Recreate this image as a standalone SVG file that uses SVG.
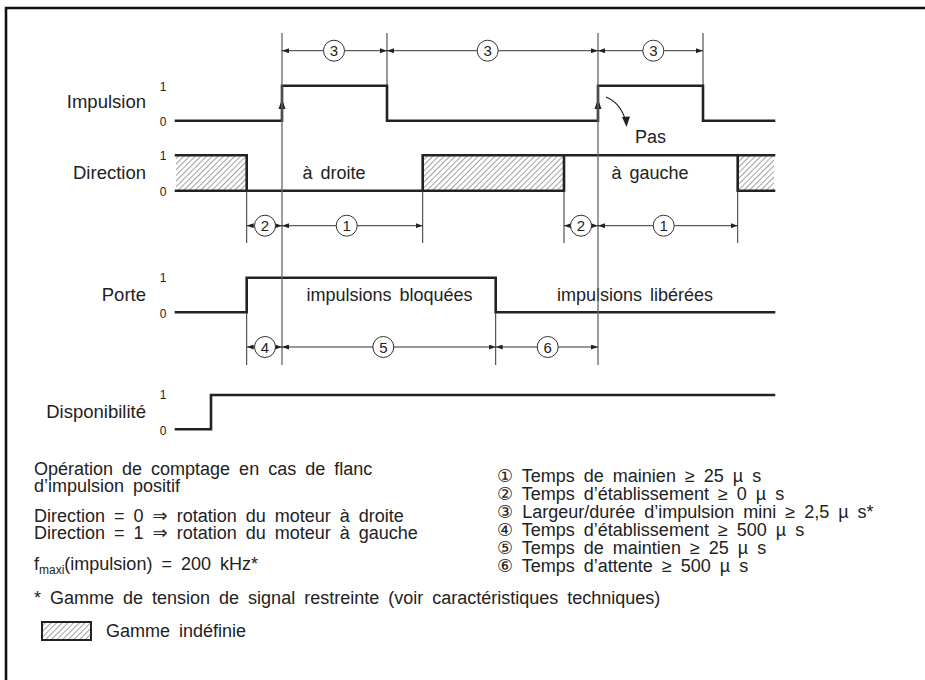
<svg xmlns="http://www.w3.org/2000/svg" width="925" height="680" viewBox="0 0 925 680">
<style>
text{font-family:"Liberation Sans","DejaVu Sans","Noto Sans CJK JP",sans-serif;fill:#222}
.lbl{font-size:18.5px;text-anchor:end}
.lv{font-size:12px;text-anchor:middle}
.in{font-size:18px;text-anchor:middle;word-spacing:3px}
.body{font-size:18px;word-spacing:4px}
.num{font-size:15px;text-anchor:middle}
.wave{fill:none;stroke:#222;stroke-width:2.6;stroke-linejoin:miter;stroke-linecap:square}
.thin{fill:none;stroke:#333;stroke-width:1}
.ref{fill:none;stroke:#666;stroke-width:1.3}
.dim{fill:none;stroke:#333;stroke-width:1;marker-start:url(#ah);marker-end:url(#ah)}
.circ{fill:#fff;stroke:#333;stroke-width:1}
</style>
<defs>
<pattern id="hatch" patternUnits="userSpaceOnUse" width="4" height="4" patternTransform="rotate(45)">
<line x1="0" y1="0" x2="0" y2="4" stroke="#444" stroke-width="1"/>
</pattern>
<marker id="ah" markerUnits="userSpaceOnUse" markerWidth="7" markerHeight="5" refX="7" refY="2.5" orient="auto-start-reverse">
<path d="M0,0 L7,2.5 L0,5 z" fill="#222"/>
</marker>
</defs>
<rect width="925" height="680" fill="#fff"/>
<path d="M6,680 V8 H925" fill="none" stroke="#111" stroke-width="2.6"/>

<g id="impulsion">
<text class="lbl" x="146" y="108">Impulsion</text>
<text class="lv" x="163" y="91">1</text>
<text class="lv" x="163" y="126">0</text>
<path class="wave" d="M176,120.7 H282 V85.7 H387 V120.7 H598 V85.7 H703 V120.7 H774"/>
<path d="M282,99 L278.5,109 L285.5,109 z" fill="#222"/>
<path d="M598,99 L594.5,109 L601.5,109 z" fill="#222"/>
</g>

<g id="pas">
<path d="M606,97 Q621,103 626,122" fill="none" stroke="#222" stroke-width="1.2"/>
<path d="M626.5,127 L622,117 L630,116.5 z" fill="#222"/>
<text x="635" y="143" style="font-size:18px">Pas</text>
</g>

<g id="direction">
<text class="lbl" x="146" y="179">Direction</text>
<text class="lv" x="163" y="160">1</text>
<text class="lv" x="163" y="196">0</text>
<rect x="176" y="155.3" width="70.7" height="35.4" fill="url(#hatch)"/>
<rect x="422.7" y="155.3" width="141.3" height="35.4" fill="url(#hatch)"/>
<rect x="737.7" y="155.3" width="36.3" height="35.4" fill="url(#hatch)"/>
<path class="wave" d="M176,155.3 H246.7 V190.7"/>
<path class="wave" d="M176,190.7 H564 V155.3"/>
<path class="wave" d="M422.7,190.7 V155.3 H774"/>
<path class="wave" d="M737.7,155.3 V190.7 H774"/>
<text class="in" x="334" y="179">à droite</text>
<text class="in" x="650" y="179">à gauche</text>
</g>

<g id="porte">
<text class="lbl" x="146" y="301">Porte</text>
<text class="lv" x="163" y="282">1</text>
<text class="lv" x="163" y="318">0</text>
<path class="wave" d="M176,312.3 H246.7 V277.7 H495.7 V312.3 H774"/>
<text class="in" x="389.5" y="301">impulsions bloquées</text>
<text class="in" x="635" y="301">impulsions libérées</text>
</g>

<g id="disponibilite">
<text class="lbl" x="146" y="418">Disponibilité</text>
<text class="lv" x="163" y="399">1</text>
<text class="lv" x="163" y="435">0</text>
<path class="wave" d="M176,429.3 H211 V395 H774"/>
</g>

<g id="connectors">
<line class="ref" x1="282" y1="33" x2="282" y2="365"/>
<line class="ref" x1="598" y1="33" x2="598" y2="365"/>
<line class="thin" x1="387" y1="33" x2="387" y2="85"/>
<line class="thin" x1="703" y1="33" x2="703" y2="85"/>
<line class="thin" x1="246.7" y1="190" x2="246.7" y2="243"/>
<line class="thin" x1="422.7" y1="190" x2="422.7" y2="243"/>
<line class="thin" x1="564" y1="190" x2="564" y2="243"/>
<line class="thin" x1="737.7" y1="190" x2="737.7" y2="243"/>
<line class="thin" x1="246.7" y1="312" x2="246.7" y2="365"/>
<line class="thin" x1="495.7" y1="312" x2="495.7" y2="365"/>
<line class="dim" x1="282" y1="50.7" x2="387" y2="50.7"/>
<line class="dim" x1="387" y1="50.7" x2="598" y2="50.7"/>
<line class="dim" x1="598" y1="50.7" x2="703" y2="50.7"/>
<line class="dim" x1="246.7" y1="225.7" x2="282" y2="225.7"/>
<line class="dim" x1="282" y1="225.7" x2="422.7" y2="225.7"/>
<line class="dim" x1="564" y1="225.7" x2="598" y2="225.7"/>
<line class="dim" x1="598" y1="225.7" x2="737.7" y2="225.7"/>
<line class="dim" x1="246.7" y1="347" x2="282" y2="347"/>
<line class="dim" x1="282" y1="347" x2="495.7" y2="347"/>
<line class="dim" x1="495.7" y1="347" x2="598" y2="347"/>
</g>

<g id="dim-labels">
<circle class="circ" cx="334" cy="50.7" r="10.5"/><text class="num" x="334" y="56.2">3</text>
<circle class="circ" cx="487.7" cy="50.7" r="10.5"/><text class="num" x="487.7" y="56.2">3</text>
<circle class="circ" cx="653.3" cy="50.7" r="10.5"/><text class="num" x="653.3" y="56.2">3</text>
<circle class="circ" cx="265" cy="225.7" r="10.5"/><text class="num" x="265" y="231.2">2</text>
<circle class="circ" cx="346.7" cy="225.7" r="10.5"/><text class="num" x="346.7" y="231.2">1</text>
<circle class="circ" cx="581" cy="225.7" r="10.5"/><text class="num" x="581" y="231.2">2</text>
<circle class="circ" cx="663.7" cy="225.7" r="10.5"/><text class="num" x="663.7" y="231.2">1</text>
<circle class="circ" cx="265" cy="347" r="10.5"/><text class="num" x="265" y="352.5">4</text>
<circle class="circ" cx="383.3" cy="347" r="10.5"/><text class="num" x="383.3" y="352.5">5</text>
<circle class="circ" cx="547.7" cy="347" r="10.5"/><text class="num" x="547.7" y="352.5">6</text>
</g>

<g id="notes">
<text class="body" x="34" y="475">Opération de comptage en cas de flanc</text>
<text class="body" x="34" y="492">d’impulsion positif</text>
<text class="body" x="34" y="522">Direction = 0 ⇒ rotation du moteur à droite</text>
<text class="body" x="34" y="539">Direction = 1 ⇒ rotation du moteur à gauche</text>
<text class="body" x="34" y="570">f<tspan dy="4" style="font-size:12px">maxi</tspan><tspan dy="-4">(impulsion) = 200 kHz*</tspan></text>
<text class="body" x="34" y="604">* Gamme de tension de signal restreinte (voir caractéristiques techniques)</text>
</g>

<g id="legend">
<text class="body" x="497" y="482">① Temps de mainien ≥ 25 µ s</text>
<text class="body" x="497" y="500">② Temps d’établissement ≥ 0 µ s</text>
<text class="body" x="497" y="518">③ Largeur/durée d’impulsion mini ≥ 2,5 µ s*</text>
<text class="body" x="497" y="536">④ Temps d’établissement ≥ 500 µ s</text>
<text class="body" x="497" y="554">⑤ Temps de maintien ≥ 25 µ s</text>
<text class="body" x="497" y="572">⑥ Temps d’attente ≥ 500 µ s</text>
</g>

<g id="hatch-legend">
<rect x="42" y="622" width="49" height="18" fill="url(#hatch)" stroke="#222" stroke-width="2"/>
<text class="body" x="106" y="637">Gamme indéfinie</text>
</g>
</svg>
